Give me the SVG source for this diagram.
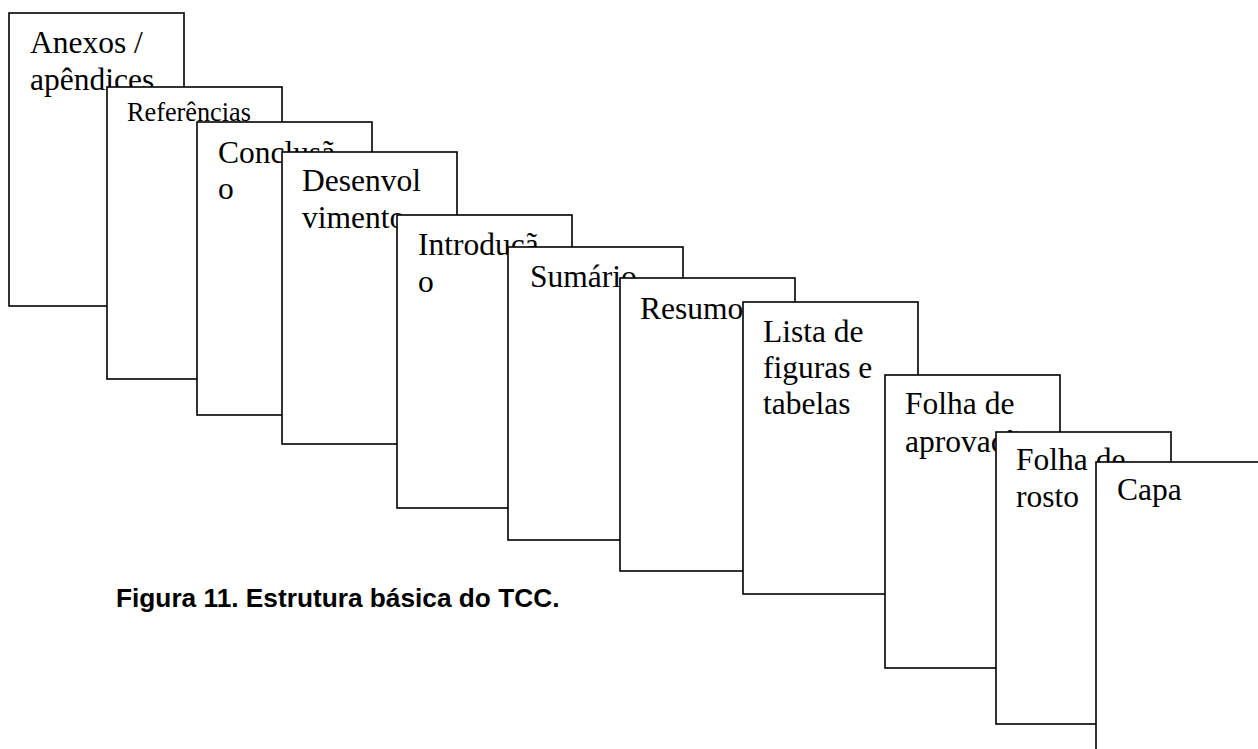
<svg xmlns="http://www.w3.org/2000/svg" width="1258" height="749" viewBox="0 0 1258 749">
<style>
.page{fill:#fff;stroke:#000;stroke-width:1.6}
.t{font-family:"Liberation Serif","Times New Roman",serif;font-size:31.5px;fill:#000}
.s{font-family:"Liberation Serif","Times New Roman",serif;font-size:26.25px;fill:#000}
.cap{font-family:"Liberation Sans",Arial,sans-serif;font-size:26.25px;font-weight:bold;fill:#000}
</style>
<rect width="1258" height="749" fill="#fff"/>
<g id="connectors"/>
<g id="anexos">
<rect class="page" x="9" y="13" width="175" height="293"/>
<text class="t" x="30" y="53">Anexos /</text>
<text class="t" x="30" y="90">apêndices</text>
</g>
<g id="referencias">
<rect class="page" x="107" y="87" width="175" height="292"/>
<text class="s" x="127" y="121">Referências</text>
</g>
<g id="conclusao">
<rect class="page" x="197" y="122" width="175" height="293"/>
<text class="t" x="218" y="163">Conclusã</text>
<text class="t" x="218" y="199">o</text>
</g>
<g id="desenvolvimento">
<rect class="page" x="282" y="152" width="175" height="292"/>
<text class="t" x="302" y="191">Desenvol</text>
<text class="t" x="302" y="228">vimento</text>
</g>
<g id="introducao">
<rect class="page" x="397" y="215" width="175" height="293"/>
<text class="t" x="418" y="255">Introduçã</text>
<text class="t" x="418" y="292">o</text>
</g>
<g id="sumario">
<rect class="page" x="508" y="247" width="175" height="293"/>
<text class="t" x="530" y="287">Sumário</text>
</g>
<g id="resumo">
<rect class="page" x="620" y="278" width="175" height="293"/>
<text class="t" x="640" y="319">Resumo</text>
</g>
<g id="lista">
<rect class="page" x="743" y="302" width="175" height="292"/>
<text class="t" x="763" y="342">Lista de</text>
<text class="t" x="763" y="378">figuras e</text>
<text class="t" x="763" y="414">tabelas</text>
</g>
<g id="aprovacao">
<rect class="page" x="885" y="375" width="175" height="293"/>
<text class="t" x="905" y="414">Folha de</text>
<text class="t" x="905" y="452">aprovação</text>
</g>
<g id="rosto">
<rect class="page" x="996" y="432" width="175" height="292"/>
<text class="t" x="1016" y="470">Folha de</text>
<text class="t" x="1016" y="507">rosto</text>
</g>
<g id="capa">
<rect class="page" x="1096" y="462" width="175" height="293"/>
<text class="t" x="1117" y="500">Capa</text>
</g>
<g id="caption">
<text class="cap" x="116" y="607">Figura 11. Estrutura básica do TCC.</text>
</g>
</svg>
